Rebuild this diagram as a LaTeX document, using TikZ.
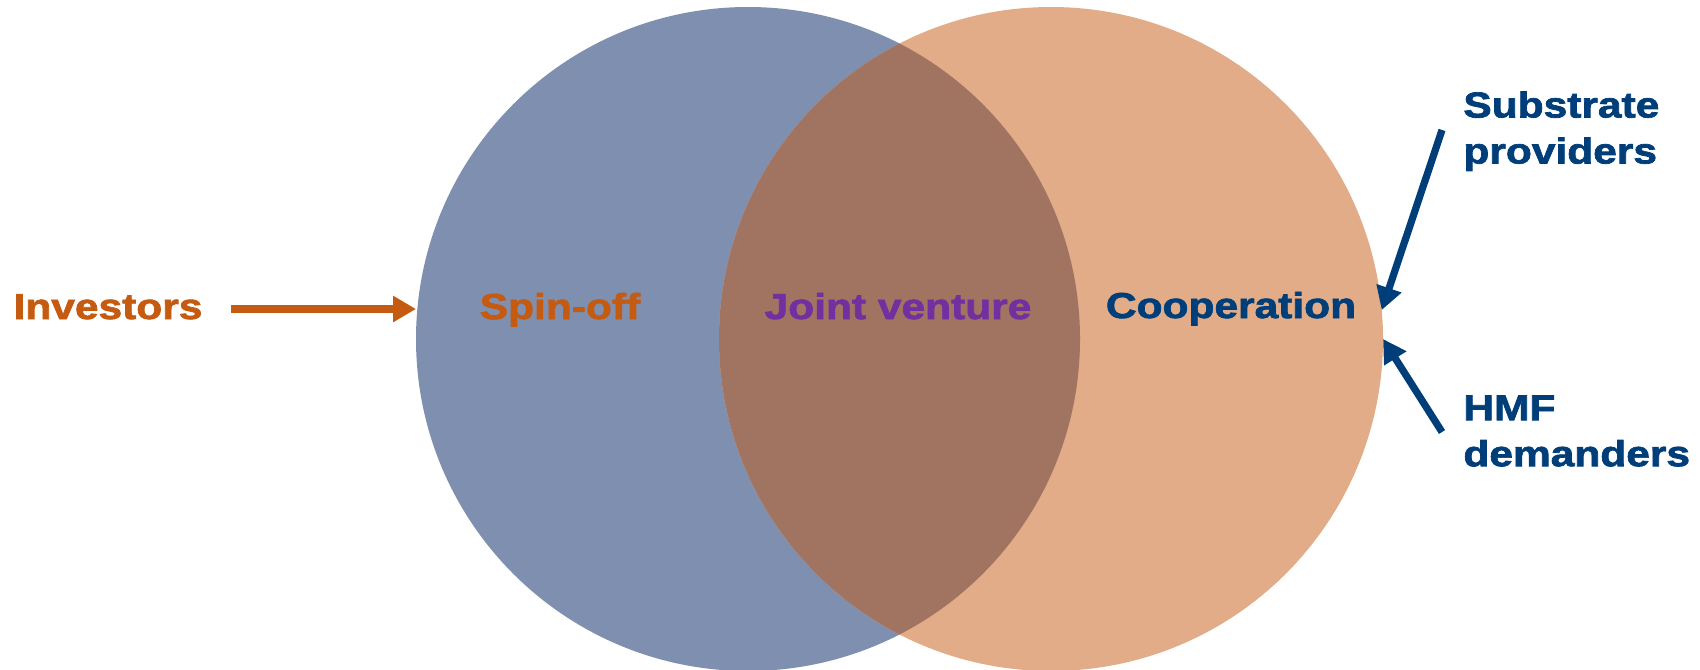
\documentclass[tikz,border=0pt]{standalone}
\usepackage{fontspec}
\newfontfamily\lab{Liberation Sans}[FakeStretch=1.18, BoldFeatures={FakeBold=2}]
\usetikzlibrary{arrows.meta}
\definecolor{cblue}{RGB}{127,143,175}
\definecolor{cpeach}{RGB}{225,172,135}
\definecolor{cover}{RGB}{160,116,96}
\definecolor{corange}{RGB}{197,90,17}
\definecolor{cpurple}{RGB}{112,48,160}
\definecolor{cnavy}{RGB}{0,62,121}
\begin{document}
\begin{tikzpicture}[x=0.5pt,y=-0.5pt,
  lbl/.style={inner sep=0pt, font=\lab\bfseries\fontsize{18}{23}\selectfont},
  venn/.style={circle, minimum size=332pt, inner sep=0pt, outer sep=0pt, draw=none},
  arr/.style={line width=3.6pt, -{Triangle[length=11.5pt,width=12.5pt]}}]
\useasboundingbox (0,0) rectangle (1700,669);
\node[venn, fill=cblue] (L) at (748,339) {};
\node[venn, fill=cpeach] (R) at (1051,339) {};
\begin{scope}
  \clip (748,339) circle[radius=166pt];
  \fill[cover] (1051,339) circle[radius=166pt];
\end{scope}
\node[lbl, text=corange, anchor=base] (inv) at (108,319) {Investors};
\node[lbl, text=corange, anchor=base] (spin) at (560,319) {Spin-off};
\node[lbl, text=cpurple, anchor=base] (jv) at (898,319) {Joint venture};
\node[lbl, text=cnavy, anchor=base] (coop) at (1231,318) {Cooperation};
\node[lbl, text=cnavy, anchor=north west, align=left] (sub) at (1463,91) {Substrate\\providers};
\node[lbl, text=cnavy, anchor=north west, align=left] (hmf) at (1463,395) {HMF\\demanders};
\coordinate (invtail) at (231,309);
\coordinate (subtail) at (1442,130);
\coordinate (hmftail) at (1442,432);
\draw[arr, corange] (invtail) -- (invtail -| L.west);
\draw[arr, cnavy] (subtail) -- (R.5.5);
\draw[arr, cnavy] (hmftail) -- (R.east);
\end{tikzpicture}
\end{document}
